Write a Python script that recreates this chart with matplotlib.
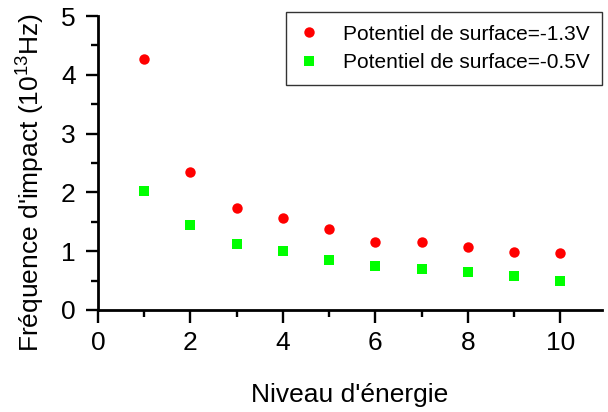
import matplotlib
matplotlib.use("Agg")
import matplotlib.pyplot as plt
from matplotlib.ticker import MultipleLocator

plt.rcParams['font.family'] = ['Liberation Sans', 'DejaVu Sans']
plt.rcParams['mathtext.fontset'] = 'custom'
plt.rcParams['mathtext.rm'] = 'Liberation Sans'
plt.rcParams['mathtext.it'] = 'Liberation Sans:italic'
plt.rcParams['mathtext.bf'] = 'Liberation Sans:bold'

niveau = [1, 2, 3, 4, 5, 6, 7, 8, 9, 10]
freq_13 = [4.27, 2.34, 1.74, 1.56, 1.38, 1.15, 1.15, 1.08, 0.99, 0.97]
freq_05 = [2.02, 1.44, 1.13, 1.00, 0.85, 0.75, 0.69, 0.65, 0.57, 0.49]
labels = ["Potentiel de surface=-1.3V", "Potentiel de surface=-0.5V"]

fig = plt.figure(figsize=(6.08, 4.12), dpi=100)
ax = fig.add_axes([0.161, 0.2476, 0.829, 0.7134])

ax.plot(niveau, freq_13, 'o', color='#ff0000', markersize=7.5, markeredgewidth=0, label=labels[0])
ax.plot(niveau, freq_05, 's', color='#00ff00', markersize=6.8, markeredgewidth=0, label=labels[1])

ax.set_xlim(0, 10.9)
ax.set_ylim(0, 5)
ax.xaxis.set_major_locator(MultipleLocator(2))
ax.xaxis.set_minor_locator(MultipleLocator(1))
ax.yaxis.set_major_locator(MultipleLocator(1))
ax.yaxis.set_minor_locator(MultipleLocator(0.5))

for s in ['top', 'right']:
    ax.spines[s].set_visible(False)
for s in ['left', 'bottom']:
    ax.spines[s].set_linewidth(2.0)

ax.tick_params(which='major', length=9, width=1.7, labelsize=19)
ax.tick_params(axis='x', which='major', pad=6)
ax.tick_params(axis='y', which='major', pad=7)
ax.tick_params(which='minor', length=5, width=1.7)

ax.set_xlabel("Niveau d'énergie", fontsize=19, labelpad=20)
ax.set_ylabel("Fréquence d'impact (10$^{\\mathrm{13}}$Hz)", fontsize=19)
ax.yaxis.set_label_coords(-0.100, 0.435)

leg = ax.legend(loc='upper right', bbox_to_anchor=(1.0, 1.013), fontsize=15, frameon=True,
                fancybox=False, edgecolor='black', handletextpad=1.14, borderpad=0.6,
                labelspacing=0.45, handlelength=1.0, borderaxespad=0.0)
leg.get_frame().set_linewidth(1.0)

fig.savefig('out.png', dpi=100)
